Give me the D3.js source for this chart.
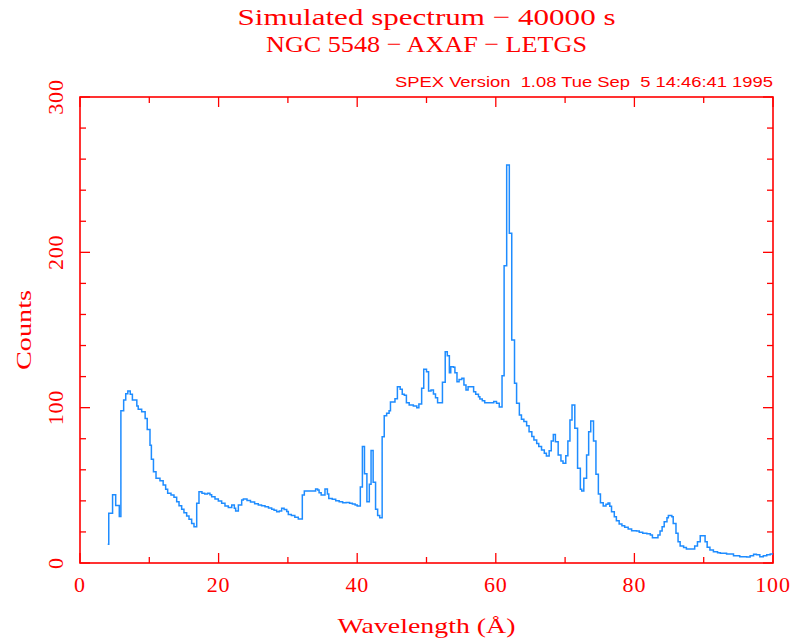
<!DOCTYPE html>
<html>
<head>
<meta charset="utf-8">
<script src="https://cdn.jsdelivr.net/npm/d3@7/dist/d3.min.js"></script>
<style>
  html, body { margin: 0; padding: 0; background: #ffffff; }
  svg { display: block; }
  text { fill: #ff0000; }
</style>
</head>
<body>
<svg id="chart" width="794" height="642"></svg>
<script>
// Simulated LETGS spectrum of NGC 5548: left bin edge (Å) and counts per bin
const binEdges = [
  4.0, 4.15, 4.7, 5.15, 5.67, 5.9, 6.3, 6.6, 6.9, 7.25, 7.56, 8.2, 8.4, 8.9, 9.4, 9.7,
  10.1, 10.3, 10.6, 10.97, 11.54, 12.0, 12.36, 12.65, 13.13, 13.56, 13.95, 14.29, 14.67,
  15.0, 15.39, 15.73, 16.11, 16.45, 16.84, 17.17, 17.6, 18.0, 18.4, 18.75, 19.0, 19.48,
  19.96, 20.44, 20.92, 21.4, 21.9, 22.27, 22.46, 22.85, 23.33, 23.57, 24.1, 24.6, 25.2,
  25.73, 26.2, 26.7, 27.2, 27.66, 28.0, 28.38, 28.75, 29.1, 29.45, 29.83, 30.06, 30.5,
  31.0, 31.5, 32.08, 32.37, 34.0, 34.3, 34.5, 34.8, 35.35, 35.7, 35.9, 36.4, 36.9, 37.4,
  37.9, 38.4, 38.9, 39.3, 39.7, 40.0, 40.45, 40.75, 41.05, 41.4, 41.75, 42.0, 42.3, 42.65,
  42.95, 43.25, 43.6, 43.9, 44.25, 44.6, 44.8, 45.45, 45.8, 46.2, 46.5, 46.8, 47.1, 47.5,
  48.1, 48.6, 48.9, 49.3, 49.6, 50.0, 50.3, 50.65, 51.0, 51.3, 51.6, 52.3, 52.7, 53.0,
  53.3, 53.5, 53.9, 54.1, 54.4, 54.7, 55.1, 55.4, 55.7, 56.0, 56.8, 57.1, 57.5, 57.7,
  58.05, 58.4, 59.7, 60.1, 60.5, 60.9, 61.2, 61.57, 61.95, 62.3, 62.7, 63.0, 63.4, 63.7,
  64.05, 64.45, 64.8, 65.2, 65.5, 65.9, 66.2, 66.6, 67.0, 67.3, 67.7, 68.0, 68.3, 68.6,
  69.0, 69.4, 69.7, 70.1, 70.4, 70.7, 71.0, 71.4, 71.8, 72.2, 72.4, 72.7, 73.1, 73.4,
  73.7, 74.1, 74.45, 74.8, 75.1, 75.5, 75.9, 76.2, 76.45, 76.7, 77.1, 77.4, 77.8, 78.2,
  78.6, 79.1, 79.6, 80.3, 80.7, 81.2, 81.8, 82.3, 82.6, 83.4, 83.7, 84.0, 84.3, 84.7,
  84.9, 85.4, 85.6, 86.0, 86.3, 86.6, 87.1, 87.5, 88.7, 89.1, 89.5, 90.2, 90.5, 90.9,
  91.4, 92.0, 92.4, 93.3, 94.3, 95.2, 96.2, 96.7, 97.2, 97.6, 98.1, 98.6, 99.1, 99.6
];
const binCounts = [
  12, 32, 44, 37, 30, 98, 105, 109, 110.7, 108.6, 105, 101, 99, 97.4, 93, 86,
  75.8, 66.8, 58.8, 54.5, 53, 50.2, 47.4, 44.9, 43.8, 42.3, 39.5, 36.9, 34.6,
  32.4, 30.3, 28.1, 25.5, 23.4, 38.4, 45.9, 44.9, 44.4, 44.9, 43.9, 42.7, 41.2,
  39.9, 38.4, 36.7, 35.8, 37.3, 35.2, 33.5, 37.3, 40.6, 41.2, 40.3, 39.2, 38.2,
  37.3, 36.8, 36.2, 35.4, 34.6, 33.9, 33, 33.4, 35.2, 34.5, 33.2, 31.3, 30.5,
  29.4, 28.4, 43.8, 46.4, 47.6, 47, 45.3, 43.8, 47.6, 44.4, 41.6, 41, 40.1, 39.5,
  38.8, 39, 38.5, 38, 37.3, 36.7, 49, 75, 57.5, 39.5, 50.7, 72.5, 52, 34.6,
  30.5, 29.2, 81.3, 94.8, 96.4, 98, 103.7, 105.8, 113.5, 111.8, 108.6, 108, 103.2, 101.7,
  101, 100, 102.4, 112.5, 124.7, 123.2, 110.7, 111.4, 108.8, 106.4, 103.2, 116.3, 136, 133.5,
  122.5, 126.4, 126, 122.5, 116.7, 118.2, 118.9, 114.6, 111.4, 113.5, 110.3, 108.6, 107, 105.6,
  104.5, 103.2, 103.9, 102.8, 100.5, 120.6, 191.4, 256.2, 212.3, 143.6, 115.7, 102.8, 95.3, 92.5,
  91.1, 88.3, 84.5, 81.5, 79.2, 77, 75, 72.7, 70.6, 68.9, 72.3, 78.5, 82.8, 78,
  69.5, 65.7, 64.2, 69.1, 78.5, 92, 101.7, 86.7, 61, 47.4, 46.4, 54.5, 69.5, 84.5,
  91.4, 78.5, 57.1, 44.5, 38.8, 36.7, 37.8, 38.6, 36.5, 33, 29.8, 27.2, 25.1, 24,
  23, 21.9, 20.8, 20.6, 19.8, 19.1, 18.9, 18, 16.3, 18, 20.6, 23.4, 26.6, 29.2,
  30.5, 29.8, 25.5, 19.1, 13.7, 10.9, 9.9, 9.0, 10.9, 13.7, 17.6, 13.7, 10.1, 8.4,
  7.3, 6.6, 6.2, 5.8, 4.7, 4.1, 3.8, 4.7, 5.6, 5.3, 4.1, 4.7, 5.3, 5.8
];
const lastEdge = 100;

const titleLines = ["Simulated spectrum \u2212 40000 s", "NGC 5548 \u2212 AXAF \u2212 LETGS"];
const stampText = "SPEX Version\u00a0\u00a01.08 Tue Sep\u00a0\u00a05 14:46:41 1995";
const xLabel = "Wavelength (\u00c5)";
const yLabel = "Counts";
const xTickValues = [0, 20, 40, 60, 80, 100];
const yTickValues = [0, 100, 200, 300];

const W = 794, H = 642;
const m = { top: 97, right: 21, bottom: 79, left: 80 };
const iw = W - m.left - m.right, ih = H - m.top - m.bottom;
const red = "#ff0000";
const serif = "'Liberation Serif', 'DejaVu Serif', serif";
const sans = "'Liberation Sans', 'DejaVu Sans', sans-serif";

const svg = d3.select("#chart");
const x = d3.scaleLinear().domain([0, 100]).range([m.left, m.left + iw]);
const y = d3.scaleLinear().domain([0, 300]).range([m.top + ih, m.top]);

// titles
svg.append("text").attr("x", x(50)).attr("y", 25).attr("text-anchor", "middle")
  .attr("font-family", serif).attr("font-size", 24)
  .attr("textLength", 378).attr("lengthAdjust", "spacingAndGlyphs").text(titleLines[0]);
svg.append("text").attr("x", x(50)).attr("y", 52).attr("text-anchor", "middle")
  .attr("font-family", serif).attr("font-size", 24)
  .attr("textLength", 321).attr("lengthAdjust", "spacingAndGlyphs").text(titleLines[1]);
svg.append("text").attr("x", m.left + iw).attr("y", 87).attr("text-anchor", "end")
  .attr("font-family", sans).attr("font-size", 14)
  .attr("textLength", 378).attr("lengthAdjust", "spacingAndGlyphs").text(stampText);

// ticks: majors every 20 Å / 100 counts, minors every 10 Å / 20 counts
const xMinor = d3.range(10, 100, 20);
const yMinor = d3.range(0, 301, 20).filter(v => v % 100 !== 0);
const tickLayer = svg.append("g").attr("stroke", red).attr("stroke-width", 1.3);
function xTicks(vals, len) {
  vals.forEach(v => {
    tickLayer.append("line").attr("x1", x(v)).attr("x2", x(v))
      .attr("y1", y(0)).attr("y2", y(0) - len);
    tickLayer.append("line").attr("x1", x(v)).attr("x2", x(v))
      .attr("y1", y(300)).attr("y2", y(300) + len);
  });
}
function yTicks(vals, len) {
  vals.forEach(v => {
    tickLayer.append("line").attr("x1", x(0)).attr("x2", x(0) + len)
      .attr("y1", y(v)).attr("y2", y(v));
    tickLayer.append("line").attr("x1", x(100)).attr("x2", x(100) - len)
      .attr("y1", y(v)).attr("y2", y(v));
  });
}
xTicks(xTickValues, 10);
xTicks(xMinor, 6);
yTicks(yTickValues, 10);
yTicks(yMinor, 6);

// frame
svg.append("rect").attr("x", m.left).attr("y", m.top).attr("width", iw).attr("height", ih)
  .attr("fill", "none").attr("stroke", red).attr("stroke-width", 1.6);

// tick labels
svg.append("g").selectAll("text").data(xTickValues).join("text")
  .attr("x", d => x(d)).attr("y", 592).attr("text-anchor", "middle")
  .attr("font-family", serif).attr("font-size", 22).attr("letter-spacing", 0.8)
  .text(d => d);
svg.append("g").selectAll("text").data(yTickValues).join("text")
  .attr("transform", d => `translate(63,${y(d)}) rotate(-90)`)
  .attr("text-anchor", "middle")
  .attr("font-family", serif).attr("font-size", 22).attr("letter-spacing", 0.8)
  .text(d => d);

// axis titles
svg.append("text").attr("x", x(50)).attr("y", 633).attr("text-anchor", "middle")
  .attr("font-family", serif).attr("font-size", 21)
  .attr("textLength", 178).attr("lengthAdjust", "spacingAndGlyphs").text(xLabel);
svg.append("text").attr("transform", `translate(31,${m.top + ih / 2}) rotate(-90)`)
  .attr("text-anchor", "middle").attr("font-family", serif).attr("font-size", 22)
  .attr("textLength", 80).attr("lengthAdjust", "spacingAndGlyphs").text(yLabel);

// spectrum as a step histogram
const pts = binEdges.map((e, i) => [e, binCounts[i]]);
pts.push([lastEdge, binCounts[binCounts.length - 1]]);
const line = d3.line().x(d => x(d[0])).y(d => y(d[1])).curve(d3.curveStepAfter);
svg.append("path").datum(pts).attr("d", line)
  .attr("fill", "none").attr("stroke", "#1e8cff").attr("stroke-width", 1.5)
  .attr("stroke-linejoin", "miter");
</script>
</body>
</html>
